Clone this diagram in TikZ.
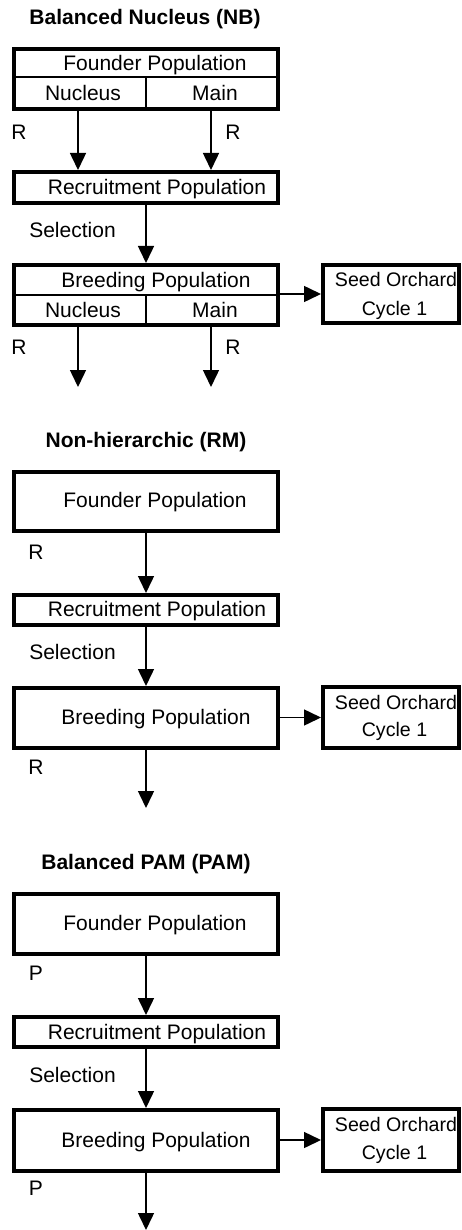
\documentclass[tikz,border=0pt]{standalone}
\usepackage{fontspec}
\setmainfont{Liberation Sans}
\usetikzlibrary{arrows.meta}
\begin{document}
\begin{tikzpicture}[x=1pt,y=-1pt,
 box/.style={draw, line width=4pt, inner sep=0pt, minimum width=264pt},
 seedbox/.style={draw, line width=4pt, inner sep=0pt, minimum width=136pt},
 lbl/.style={inner sep=0pt, font=\fontsize{21pt}{24pt}\selectfont, text height=15pt, text depth=0pt},
 slbl/.style={inner sep=0pt, font=\fontsize{19.6pt}{23pt}\selectfont, text height=14.5pt, text depth=0pt},
 ttl/.style={inner sep=0pt, font=\fontsize{21pt}{24pt}\selectfont\bfseries, text height=15pt, text depth=0pt},
 arr/.style={line width=1.5pt, -{Triangle[width=16pt,length=17pt]}},
 div/.style={line width=1.5pt}]
\useasboundingbox (0,0) rectangle (462,1230);
\coordinate (cL) at (78,0);
\coordinate (cR) at (211,0);
\coordinate (cM) at (146,0);

% ---------- Balanced Nucleus (NB)
\node[ttl] (t1) at (145,17) {Balanced Nucleus (NB)};
\node[box, minimum height=60pt] (nbf) at (146,79) {};
\draw[div] (14,77) -- (278,77);
\draw[div] (146,77) -- (146,109);
\node[lbl] (nbft) at (155,63) {Founder Population};
\node[lbl] (nbfn) at (83,93) {Nucleus};
\node[lbl] (nbfm) at (215,93) {Main};
\node[lbl] (nbr1) at (19,132) {R};
\node[lbl] (nbr2) at (233,132) {R};
\node[box, minimum height=31pt] (nbr) at (146,187.5) {};
\node[lbl] (nbrt) at (157,187) {Recruitment Population};
\node[lbl] (nbsel) at (72.5,230) {Selection};
\node[box, minimum height=60pt] (nbb) at (146,295) {};
\draw[div] (14,295) -- (278,295);
\draw[div] (146,295) -- (146,325);
\node[lbl] (nbbt) at (156,280) {Breeding Population};
\node[lbl] (nbbn) at (83,310) {Nucleus};
\node[lbl] (nbbm) at (215,310) {Main};
\node[seedbox, minimum height=58pt] (nbs) at (391,294) {};
\node[slbl] (nbs1) at (396,279.5) {Seed Orchard};
\node[slbl] (nbs2) at (394.5,308) {Cycle 1};
\node[lbl] (nbr3) at (19,347) {R};
\node[lbl] (nbr4) at (233,347) {R};
\coordinate (nbe1) at (78,387);
\coordinate (nbe2) at (211,387);
\draw[arr] (nbf.south -| cL) -- (nbr.north -| cL);
\draw[arr] (nbf.south -| cR) -- (nbr.north -| cR);
\draw[arr] (nbr.south) -- (nbb.north);
\draw[arr] (nbb.east |- nbs.west) -- (nbs.west);
\draw[arr] (nbb.south -| cL) -- (nbe1);
\draw[arr] (nbb.south -| cR) -- (nbe2);

% ---------- Non-hierarchic (RM)
\node[ttl] (t2) at (146,440) {Non-hierarchic (RM)};
\node[box, minimum height=59pt] (rmf) at (146,501.5) {};
\node[lbl] (rmft) at (155,500) {Founder Population};
\node[lbl] (rmr1) at (36,552) {R};
\node[box, minimum height=30pt] (rmr) at (146,610) {};
\node[lbl] (rmrt) at (157,609) {Recruitment Population};
\node[lbl] (rmsel) at (72.5,652) {Selection};
\node[box, minimum height=60pt] (rmb) at (146,718) {};
\node[lbl] (rmbt) at (156,717) {Breeding Population};
\node[seedbox, minimum height=61pt] (rms) at (391,717.5) {};
\node[slbl] (rms1) at (396,702) {Seed Orchard};
\node[slbl] (rms2) at (394.5,729) {Cycle 1};
\node[lbl] (rmr2) at (36,767) {R};
\coordinate (rme) at (146,808);
\draw[arr] (rmf.south) -- (rmr.north);
\draw[arr] (rmr.south) -- (rmb.north);
\draw[arr] (rmb.east |- rms.west) -- (rms.west);
\draw[arr] (rmb.south) -- (rme);

% ---------- Balanced PAM (PAM)
\node[ttl] (t3) at (146,862) {Balanced PAM (PAM)};
\node[box, minimum height=60pt] (pmf) at (146,924) {};
\node[lbl] (pmft) at (155,923) {Founder Population};
\node[lbl] (pmp1) at (36,973) {P};
\node[box, minimum height=30pt] (pmr) at (146,1032) {};
\node[lbl] (pmrt) at (157,1032) {Recruitment Population};
\node[lbl] (pmsel) at (72.5,1075) {Selection};
\node[box, minimum height=61pt] (pmb) at (146,1140.5) {};
\node[lbl] (pmbt) at (156,1140) {Breeding Population};
\node[seedbox, minimum height=62pt] (pms) at (391,1140) {};
\node[slbl] (pms1) at (396,1124) {Seed Orchard};
\node[slbl] (pms2) at (394.5,1152) {Cycle 1};
\node[lbl] (pmp2) at (36,1188) {P};
\coordinate (pme) at (146,1230);
\draw[arr] (pmf.south) -- (pmr.north);
\draw[arr] (pmr.south) -- (pmb.north);
\draw[arr] (pmb.east |- pms.west) -- (pms.west);
\draw[arr] (pmb.south) -- (pme);
\end{tikzpicture}
\end{document}
